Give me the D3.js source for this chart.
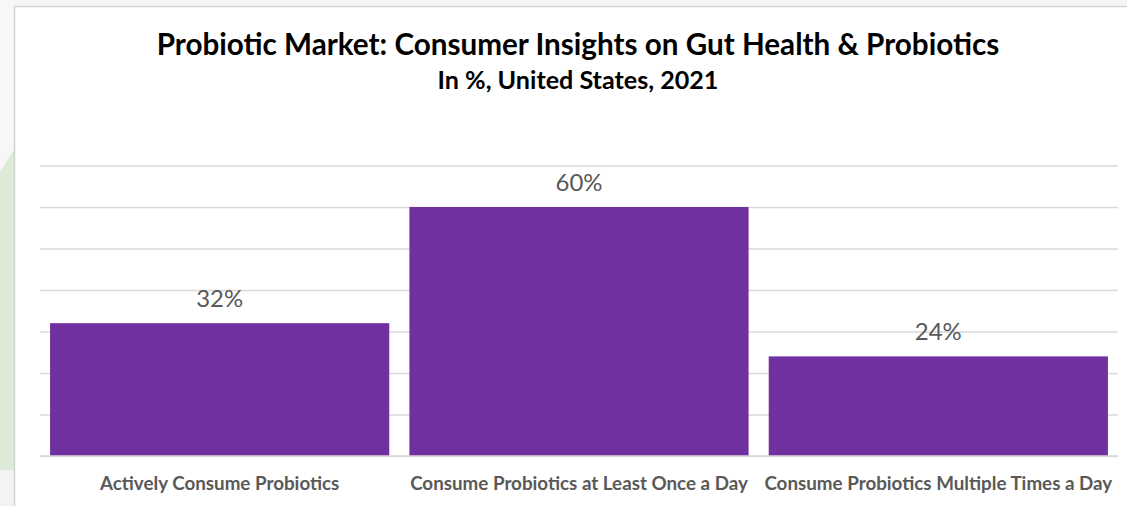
<!DOCTYPE html>
<html>
<head>
<meta charset="utf-8">
<script src="https://cdn.jsdelivr.net/npm/d3@7"></script>
<style>
  html, body { margin: 0; padding: 0; background: #f4f4f4; }
  svg { display: block; }
</style>
</head>
<body>
<svg id="chart" width="1127" height="506"></svg>
<script>
// Survey data
const categories = [
  "Actively Consume Probiotics",
  "Consume Probiotics at Least Once a Day",
  "Consume Probiotics Multiple Times a Day"
];
const shares = [32, 60, 24];
const gridTicks = [0, 10, 20, 30, 40, 50, 60, 70];
const titleText = "Probiotic Market: Consumer Insights on Gut Health & Probiotics";
const subtitleText = "In %, United States, 2021";

const W = 1127, H = 506;
const svg = d3.select("#chart");

// page backdrop outside the chart frame
svg.append("rect").attr("x", 0).attr("y", 0).attr("width", W).attr("height", H).attr("fill", "#f5f5f5");
svg.append("rect").attr("x", 0).attr("y", 0).attr("width", 14).attr("height", H).attr("fill", "#f7f7f7");
svg.append("path")
  .attr("d", "M0,172 L14,150 L14,470 L0,470 Z")
  .attr("fill", "#dcebd8");
svg.append("rect").attr("x", 0).attr("y", 470).attr("width", 14).attr("height", 36).attr("fill", "#f3f3f3");

// chart frame
svg.append("rect")
  .attr("x", 14.5).attr("y", 6.5)
  .attr("width", W).attr("height", H)
  .attr("fill", "#ffffff")
  .attr("stroke", "#d4d4d4").attr("stroke-width", 1.5);

const plot = { left: 40, right: 1118, top: 165.5, bottom: 456 };

const x = d3.scaleBand()
  .domain(categories)
  .range([plot.left, plot.right])
  .paddingInner(0.056)
  .paddingOuter(0.028);

const y = d3.scaleLinear()
  .domain([0, 70])
  .range([plot.bottom, plot.top]);

// horizontal gridlines
svg.append("g")
  .attr("transform", `translate(${plot.left},0)`)
  .call(d3.axisLeft(y).tickValues(gridTicks).tickSize(-(plot.right - plot.left)).tickFormat(""))
  .call(g => g.select(".domain").remove())
  .call(g => g.selectAll(".tick line").attr("stroke", "#d9d9d9").attr("stroke-width", 1.5));

// bars
svg.append("g").selectAll("rect")
  .data(shares)
  .join("rect")
  .attr("x", (d, i) => x(categories[i]))
  .attr("y", d => y(d))
  .attr("width", x.bandwidth())
  .attr("height", d => y(0) - y(d))
  .attr("fill", "#7030a0");

// baseline
svg.append("line")
  .attr("x1", plot.left).attr("x2", plot.right)
  .attr("y1", y(0)).attr("y2", y(0))
  .attr("stroke", "#d9d9d9").attr("stroke-width", 1.5);

// fit a text element's font size so it spans the given width
function fitWidth(sel, width) {
  const node = sel.node();
  const fs = parseFloat(sel.attr("font-size"));
  const len = node.getComputedTextLength();
  sel.attr("font-size", (fs * width / len).toFixed(2));
}

const font = "Lato, 'Open Sans', sans-serif";

// value labels
const valueLabels = svg.append("g").selectAll("text")
  .data(shares)
  .join("text")
  .attr("x", (d, i) => x(categories[i]) + x.bandwidth() / 2)
  .attr("y", d => y(d) - 16)
  .attr("text-anchor", "middle")
  .attr("font-family", font)
  .attr("font-size", 24)
  .attr("fill", "#595959")
  .text(d => d + "%");
{
  const first = valueLabels.filter((d, i) => i === 1);
  const len = first.node().getComputedTextLength();
  const fs = 24 * 47 / len;
  valueLabels.attr("font-size", fs.toFixed(2));
}

// category labels
const catLabels = svg.append("g").selectAll("text")
  .data(categories)
  .join("text")
  .attr("x", d => x(d) + x.bandwidth() / 2)
  .attr("y", 490)
  .attr("text-anchor", "middle")
  .attr("font-family", font)
  .attr("font-weight", "bold")
  .attr("font-size", 16)
  .attr("fill", "#595959")
  .text(d => d);
{
  const first = catLabels.filter((d, i) => i === 1);
  const len = first.node().getComputedTextLength();
  const fs = 16 * 338 / len;
  catLabels.attr("font-size", fs.toFixed(2));
}

// titles
const title = svg.append("text")
  .attr("x", 578).attr("y", 55)
  .attr("text-anchor", "middle")
  .attr("font-family", font)
  .attr("font-weight", "bold")
  .attr("font-size", 24)
  .attr("fill", "#000000")
  .text(titleText);
fitWidth(title, 843);

const subtitle = svg.append("text")
  .attr("x", 578).attr("y", 89)
  .attr("text-anchor", "middle")
  .attr("font-family", font)
  .attr("font-weight", "bold")
  .attr("font-size", 20)
  .attr("fill", "#000000")
  .text(subtitleText);
fitWidth(subtitle, 281);
</script>
</body>
</html>
